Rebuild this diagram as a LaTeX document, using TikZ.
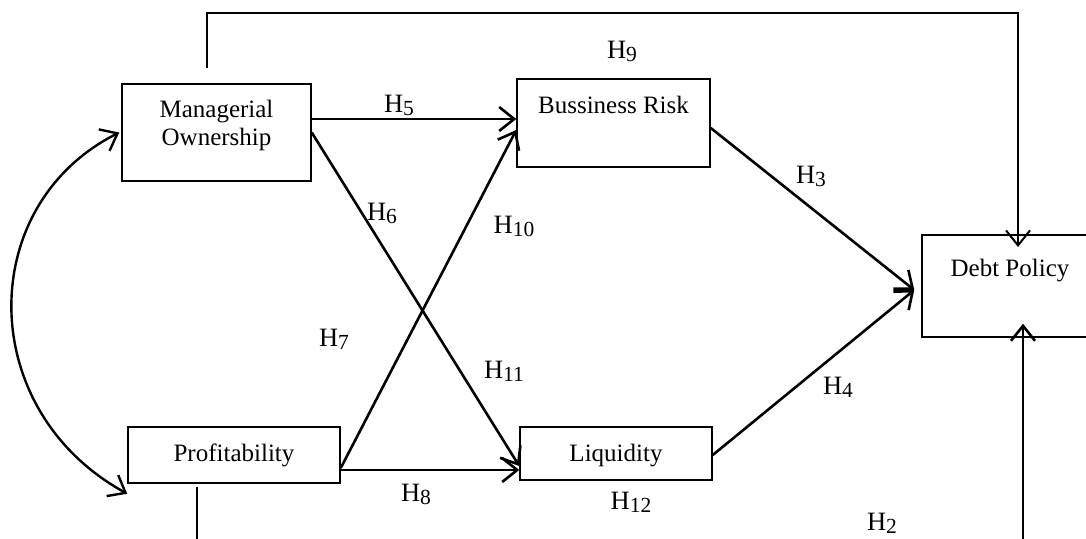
\documentclass[tikz,border=0pt]{standalone}
\usepackage{fontspec}
\setmainfont{Liberation Serif}
\usetikzlibrary{arrows.meta}

\newcommand{\hyp}[1]{H\raisebox{-3.5pt}{\fontsize{21.5}{21.5}\selectfont #1}}

\tikzset{
  varbox/.style={draw, line width=1.5pt, inner sep=0pt, font=\fontsize{25}{28}\selectfont},
  link/.style={line width=2.6pt, -{Straight Barb[length=15pt,width=24pt]}},
  hlabel/.style={anchor=base, inner sep=0pt, font=\fontsize{26.5}{28}\selectfont}
}

\begin{document}
\begin{tikzpicture}[x=1pt, y=-1pt]
    \useasboundingbox (0,0) rectangle (1086,538);
    \clip (0,0) rectangle (1086,538);

    % 变量框
    \node[varbox, minimum width=189pt, text height=33pt, text depth=64pt] (man) at (216.5,132.5)
        {\begin{tabular}[t]{@{}c@{}}Managerial\\Ownership\end{tabular}};
    \node[varbox, minimum width=193pt, text height=34pt, text depth=54pt] (risk) at (613.5,123) {Bussiness Risk};
    \node[varbox, minimum width=176pt, text height=41pt, text depth=61pt] (debt) at (1010,286) {Debt Policy};
    \node[varbox, minimum width=212pt, text height=34pt, text depth=22pt] (prof) at (234,455) {Profitability};
    \node[varbox, minimum width=192pt, text height=34pt, text depth=19pt] (liq) at (616,453.5) {Liquidity};

    % 上方折线 H9
    \coordinate (topstart) at (207,68);
    \coordinate (toptip) at (1018,247);
    \draw[link, line width=2pt] (topstart) -- ++(0,-55) -| (toptip);

    % 直接路径
    \coordinate (h5s) at ([yshift=13.5pt]man.east);
    \draw[link] (h5s) -- (h5s -| risk.west);
    \draw[link] (man.east) -- ([yshift=-12.5pt]liq.west);
    \draw[link] ([yshift=-13pt]prof.east) -- ([yshift=-7pt]risk.west);
    \coordinate (h8s) at ([yshift=-15pt]prof.east);
    \draw[link] (h8s) -- (h8s -| liq.west);

    % 指向 Debt Policy
    \coordinate (dtip) at ([xshift=-7pt,yshift=-4pt]debt.west);
    \draw[link] ([yshift=-5pt]risk.east) -- (dtip);
    \draw[link] ([yshift=-1.5pt]liq.east) -- (dtip);
    \coordinate (botstart) at (1023,545);
    \draw[link] (botstart) -- ([xshift=13pt,yshift=14pt]debt.south);

    % 下方短线
    \draw[line width=1.5pt] ([xshift=-37pt,yshift=-3pt]prof.south) -- ++(0,60);

    % 双向弧线
    \draw[line width=2.4pt, {Straight Barb[length=15pt,width=24pt]}-{Straight Barb[length=15pt,width=24pt]}]
        ([xshift=-2pt]man.west) .. controls (-25,205) and (-25,410) .. ([yshift=-10pt]prof.south west);

    % 假设标签
    \node[hlabel] (h5) at (399,112) {\hyp{5}};
    \node[hlabel] (h6) at (382,220) {\hyp{6}};
    \node[hlabel] (h9) at (622,58) {\hyp{9}};
    \node[hlabel] (h10) at (514,233) {\hyp{10}};
    \node[hlabel] (h3) at (811,183) {\hyp{3}};
    \node[hlabel] (h7) at (334,346) {\hyp{7}};
    \node[hlabel] (h11) at (504,378) {\hyp{11}};
    \node[hlabel] (h8) at (416,501) {\hyp{8}};
    \node[hlabel] (h12) at (631,509) {\hyp{12}};
    \node[hlabel] (h4) at (838,394) {\hyp{4}};
    \node[hlabel] (h2) at (882,530) {\hyp{2}};
\end{tikzpicture}
\end{document}
